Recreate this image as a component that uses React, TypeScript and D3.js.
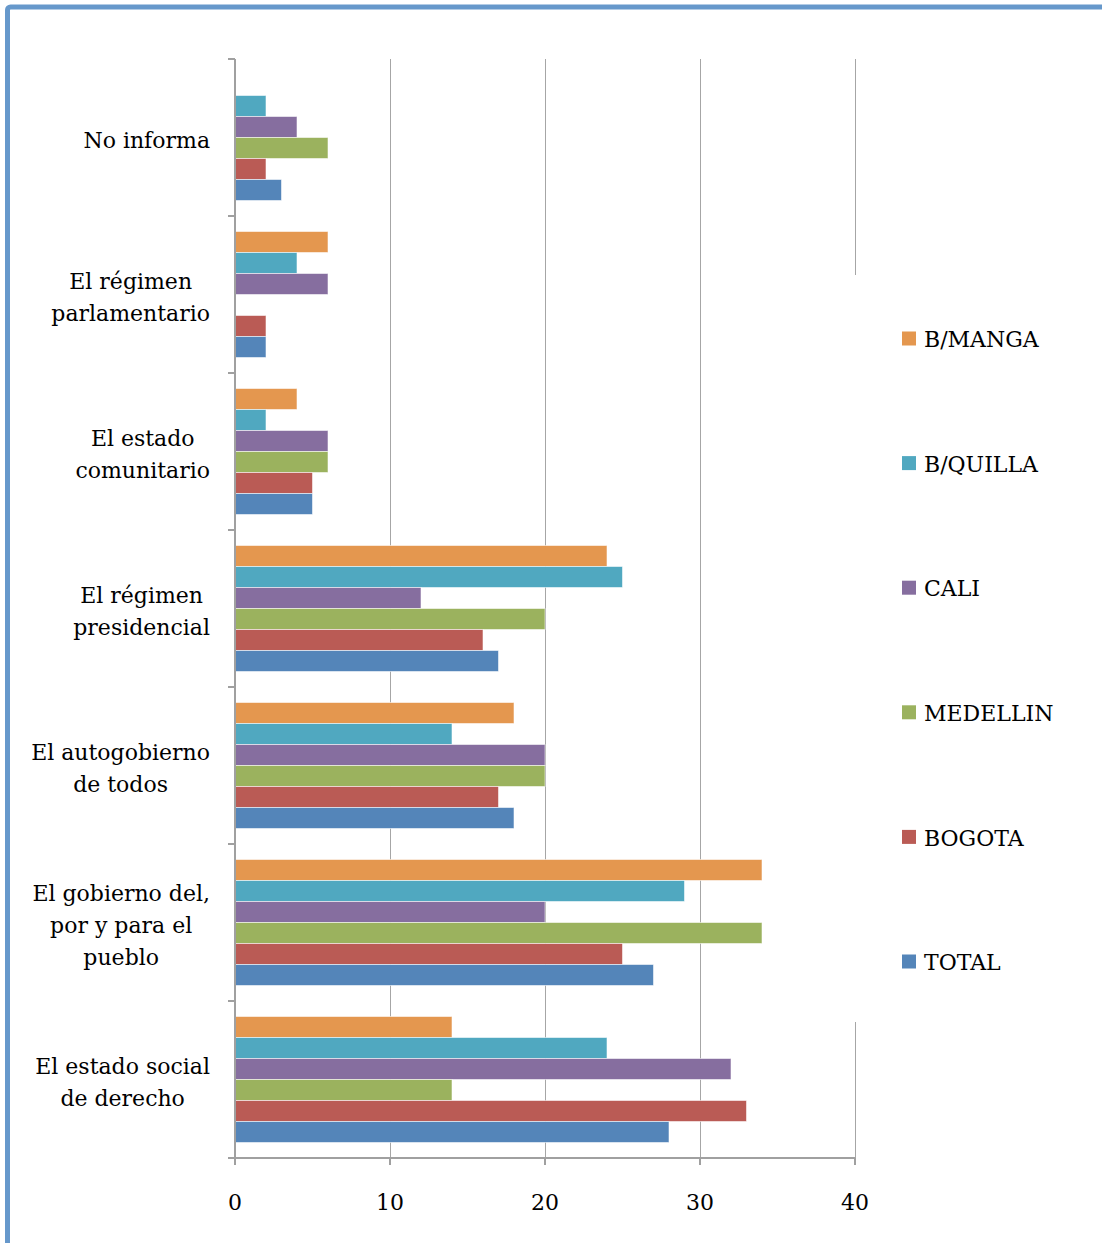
import React, { useEffect, useRef } from "react";
import * as d3 from "d3";

const categories: string[][] = [
  ["No informa"],
  ["El régimen", "parlamentario"],
  ["El estado", "comunitario"],
  ["El régimen", "presidencial"],
  ["El autogobierno", "de todos"],
  ["El gobierno del,", "por y para el", "pueblo"],
  ["El estado social", "de derecho"],
];

const seriesNames = ["B/MANGA", "B/QUILLA", "CALI", "MEDELLIN", "BOGOTA", "TOTAL"];
const seriesColors = ["#E4974F", "#50A8C0", "#866E9F", "#9BB25E", "#BA5B55", "#5485B9"];

const bManga = [0, 6, 4, 24, 18, 34, 14];
const bQuilla = [2, 4, 2, 25, 14, 29, 24];
const cali = [4, 6, 6, 12, 20, 20, 32];
const medellin = [6, 0, 6, 20, 20, 34, 14];
const bogota = [2, 2, 5, 16, 17, 25, 33];
const total = [3, 2, 5, 17, 18, 27, 28];
const seriesValues = [bManga, bQuilla, cali, medellin, bogota, total];

const xTicks = [0, 10, 20, 30, 40];

const FONT = "'DejaVu Serif', serif";

export default function App() {
  const ref = useRef<SVGSVGElement | null>(null);

  useEffect(() => {
    const svg = d3.select(ref.current);
    svg.selectAll("*").remove();

    const left = 235, right = 855, top = 59, bottom = 1158;
    const x = d3.scaleLinear().domain([0, 40]).range([left, right]);
    const y = d3.scaleBand<number>().domain(categories.map((_, i) => i)).range([top, bottom]).paddingInner(0).paddingOuter(0);
    const ys = d3.scaleBand<number>().domain(seriesNames.map((_, i) => i)).range([0, y.bandwidth()]).paddingInner(0).paddingOuter(0.738);

    // frame
    svg.append("rect").attr("x", 7.5).attr("y", 7).attr("width", 1200).attr("height", 1400)
      .attr("rx", 3).attr("fill", "#fff").attr("stroke", "#6698CB").attr("stroke-width", 5);

    // gridlines
    svg.append("g").selectAll("line").data(xTicks.slice(1)).join("line")
      .attr("x1", (d) => x(d)).attr("x2", (d) => x(d)).attr("y1", top).attr("y2", bottom)
      .attr("stroke", "#A6A6A6").attr("stroke-width", 1).attr("shape-rendering", "crispEdges");

    // bars
    const g = svg.append("g");
    categories.forEach((_, ci) => {
      seriesValues.forEach((vals, si) => {
        const v = vals[ci];
        if (v <= 0) return;
        g.append("rect")
          .attr("x", x(0)).attr("y", (y(ci) as number) + (ys(si) as number))
          .attr("width", x(v) - x(0)).attr("height", ys.bandwidth())
          .attr("fill", seriesColors[si])
          .attr("stroke", "rgba(255,255,255,0.55)").attr("stroke-width", 1);
      });
    });

    // axes lines
    svg.append("line").attr("x1", left).attr("x2", left).attr("y1", top).attr("y2", bottom + 7)
      .attr("stroke", "#A0A0A0").attr("stroke-width", 1.5).attr("shape-rendering", "crispEdges");
    svg.append("line").attr("x1", left - 7).attr("x2", right).attr("y1", bottom).attr("y2", bottom)
      .attr("stroke", "#A0A0A0").attr("stroke-width", 1.5).attr("shape-rendering", "crispEdges");
    // category ticks
    const bounds = categories.map((_, i) => y(i) as number).concat([bottom]);
    svg.append("g").selectAll("line").data(bounds).join("line")
      .attr("x1", left - 7).attr("x2", left).attr("y1", (d) => d).attr("y2", (d) => d)
      .attr("stroke", "#A0A0A0").attr("stroke-width", 1.5).attr("shape-rendering", "crispEdges");
    // x ticks
    svg.append("g").selectAll("line").data(xTicks).join("line")
      .attr("x1", (d) => x(d)).attr("x2", (d) => x(d)).attr("y1", bottom).attr("y2", bottom + 7)
      .attr("stroke", "#A0A0A0").attr("stroke-width", 1.5).attr("shape-rendering", "crispEdges");

    // x tick labels
    svg.append("g").selectAll("text").data(xTicks).join("text")
      .attr("x", (d) => x(d)).attr("y", 1202).attr("dy", "0.35em")
      .attr("text-anchor", "middle").attr("font-family", FONT).attr("font-size", 22).attr("fill", "#000")
      .text((d) => String(d));

    // category labels
    const labelRight = 210;
    const lineH = 32;
    categories.forEach((lines, ci) => {
      const cy = (y(ci) as number) + y.bandwidth() / 2 + 2.5;
      const tg = svg.append("g");
      const texts = lines.map((ln, li) =>
        tg.append("text")
          .attr("y", cy + (li - (lines.length - 1) / 2) * lineH).attr("dy", "0.35em")
          .attr("text-anchor", "middle").attr("font-family", FONT).attr("font-size", 22).attr("fill", "#000")
          .text(ln)
      );
      const maxW = d3.max(texts, (t) => (t.node() as SVGTextElement).getComputedTextLength()) || 0;
      texts.forEach((t) => t.attr("x", labelRight - maxW / 2));
    });

    // legend
    svg.append("rect").attr("x", 850).attr("y", 275).attr("width", 252).attr("height", 747).attr("fill", "#fff");
    const ly = d3.scalePoint<number>().domain(seriesNames.map((_, i) => i)).range([339.5, 962.5]);
    const lg = svg.append("g");
    seriesNames.forEach((name, si) => {
      const cy = ly(si) as number;
      lg.append("rect").attr("x", 902).attr("y", cy - 8).attr("width", 14).attr("height", 14).attr("fill", seriesColors[si]);
      lg.append("text").attr("x", 924).attr("y", cy).attr("dy", "0.35em")
        .attr("font-family", FONT).attr("font-size", 22).attr("fill", "#000").text(name);
    });
  }, []);

  return (
    <svg ref={ref} width={1102} height={1243} style={{ position: "absolute", left: 0, top: 0, background: "#fff" }} />
  );
}
